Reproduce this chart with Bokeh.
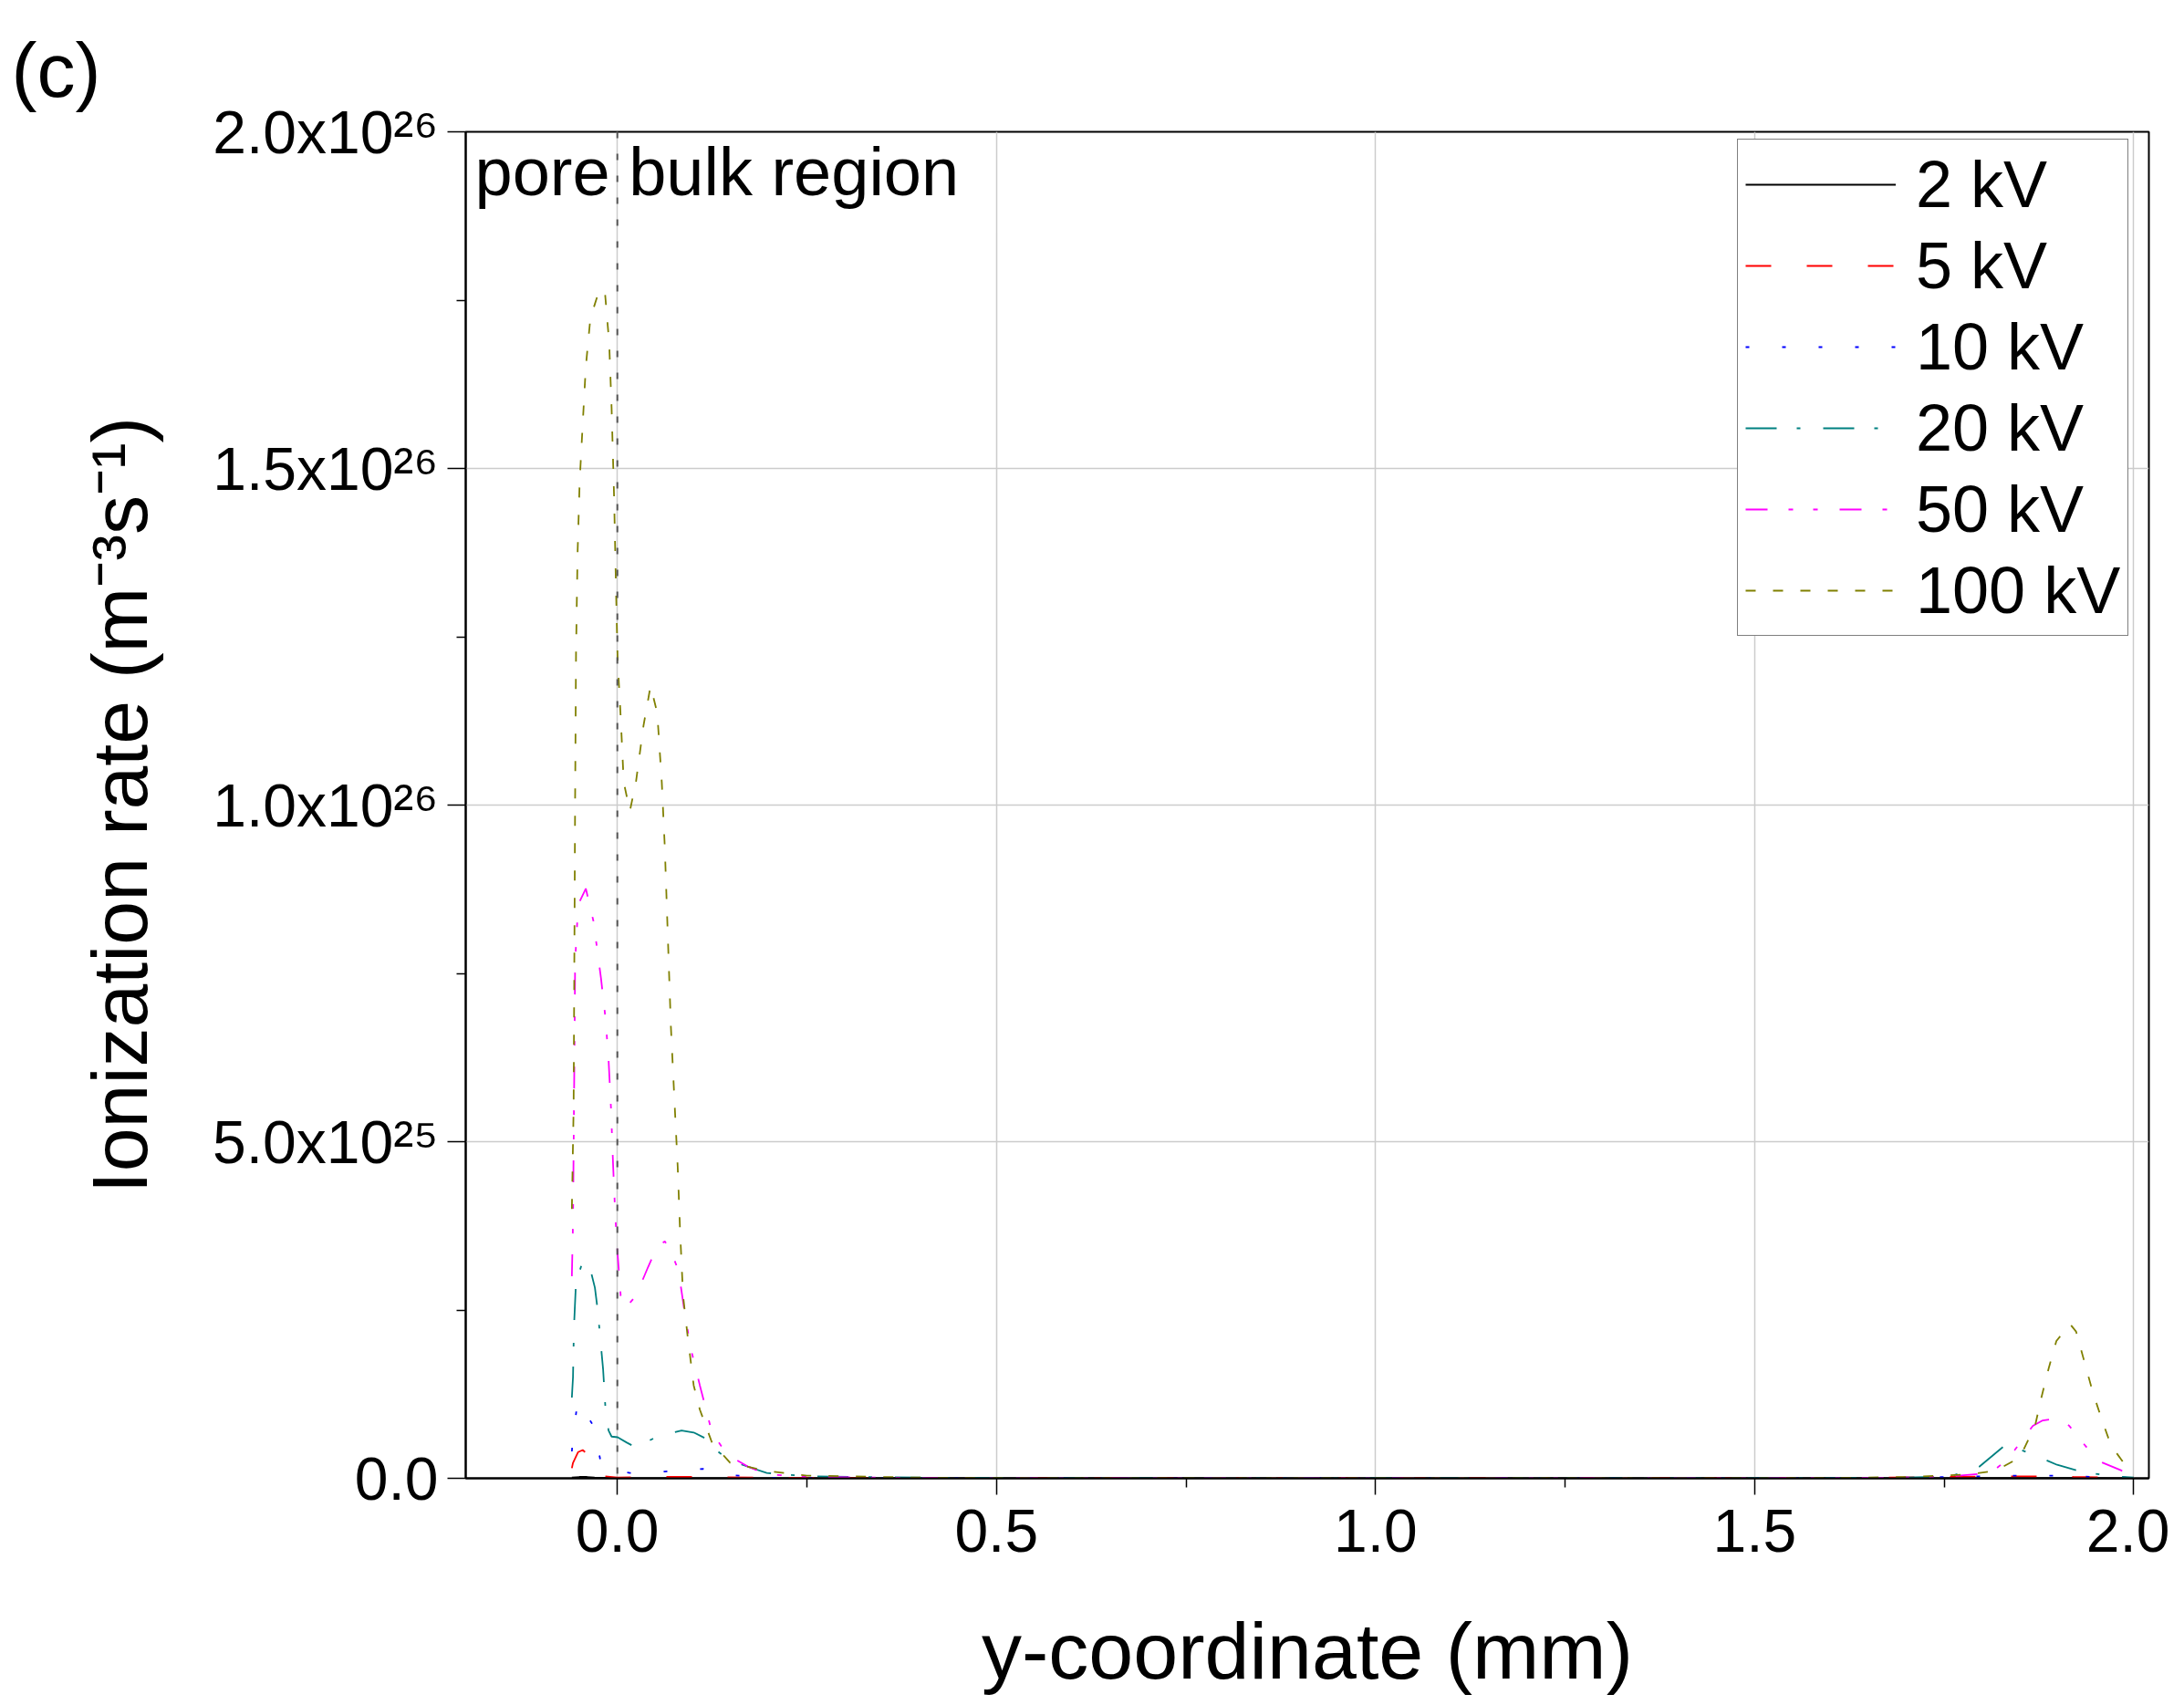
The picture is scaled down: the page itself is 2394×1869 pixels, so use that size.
import numpy as np
from bokeh.plotting import figure
from bokeh.models import (FixedTicker, CustomJSTickFormatter, Span, Label,
                          Legend, LegendItem)
from bokeh.embed import file_html
from bokeh.resources import INLINE

# ---------------- data (y-coordinate in mm, ionization rate in m^-3 s^-1) ----
x_2kV = [-0.0600, -0.0500, -0.0400, -0.0300, 0.000, 0.100, 0.300, 1.00, 1.70, 1.90, 2.00]
r_2kV = [0.001, 0.002, 0.002, 0.001, 0.0005, 0.0003, 0, 0, 0, 0.0005, 0.0003]

x_5kV = [-0.0600, -0.0585, -0.0517, -0.0457, -0.0397, -0.0356, -0.0250, 0.000, 0.050,
         0.100, 0.200, 0.40, 0.80, 1.20, 1.60, 1.75, 1.85, 1.92, 2.00]
r_5kV = [0.015, 0.023, 0.039, 0.042, 0.036, 0.014, 0.004, 0.001, 0.002,
         0.002, 0.001, 0, 0, 0, 0, 0.002, 0.003, 0.002, 0.001]

x_10kV = [-0.0600, -0.0585, -0.0525, -0.0416, -0.0316, -0.0224, -0.0116, 0.0165, 0.0626,
          0.1128, 0.145, 0.197, 0.30, 0.60, 1.00, 1.40, 1.70, 1.80, 1.85, 1.90, 1.95, 2.00]
r_10kV = [0.04, 0.06, 0.114, 0.096, 0.078, 0.027, 0.012, 0.008, 0.010,
          0.014, 0.005, 0.001, 0, 0, 0, 0, 0.001, 0.003, 0.004, 0.004, 0.002, 0.001]

x_20kV = [-0.0600, -0.0585, -0.0573, -0.0549, -0.0517, -0.0457, -0.0377, -0.0296, -0.0256,
          -0.0228, -0.0188, -0.0156, -0.0116, -0.0076, 0.0004, 0.0125, 0.0225, 0.0366,
          0.0526, 0.0847, 0.1007, 0.1168, 0.1248, 0.1449, 0.165, 0.197, 0.25, 0.40, 0.60,
          0.80, 1.00, 1.20, 1.40, 1.60, 1.70, 1.758, 1.796, 1.828, 1.842, 1.868, 1.899,
          1.931, 1.971, 2.000]
r_20kV = [0.12, 0.150, 0.223, 0.283, 0.301, 0.322, 0.320, 0.283, 0.247,
          0.211, 0.162, 0.102, 0.071, 0.062, 0.061, 0.053, 0.047, 0.053,
          0.062, 0.071, 0.068, 0.059, 0.047, 0.029, 0.020, 0.008, 0.003, 0.001, 0,
          0, 0, 0, 0, 0.0005, 0.001, 0.003, 0.017, 0.047, 0.046, 0.035, 0.020,
          0.010, 0.003, 0.001]

x_50kV = [-0.0600, -0.0585, -0.0577, -0.0565, -0.0557, -0.0517, -0.0416, -0.0316, -0.0216,
          -0.0156, -0.0116, -0.0084, -0.0056, -0.0028, 0.0004, 0.0044, 0.0105, 0.0245,
          0.0406, 0.0526, 0.0626, 0.0706, 0.0807, 0.0887, 0.0968, 0.1088, 0.1248, 0.1449,
          0.173, 0.197, 0.25, 0.40, 0.60, 0.80, 1.00, 1.20, 1.40, 1.60, 1.70, 1.76, 1.800,
          1.816, 1.831, 1.843, 1.867, 1.880, 1.899, 1.915, 1.929, 1.953, 1.983, 1.998, 2.000]
r_50kV = [0.30, 0.380, 0.489, 0.646, 0.767, 0.852, 0.876, 0.828, 0.743,
          0.683, 0.622, 0.55, 0.465, 0.392, 0.332, 0.271, 0.253, 0.271,
          0.314, 0.344, 0.352, 0.338, 0.308, 0.247, 0.193, 0.138, 0.068, 0.035,
          0.017, 0.006, 0.002, 0.0005, 0, 0, 0, 0, 0, 0.0005, 0.001, 0.003, 0.007,
          0.012, 0.026, 0.042, 0.078, 0.086, 0.089, 0.078, 0.058, 0.026, 0.012, 0.003, 0.002]

x_100kV = [-0.0600, -0.0577, -0.0557, -0.0545, -0.0525, -0.0497, -0.0457, -0.0416, -0.0356,
           -0.0236, -0.0164, -0.0108, -0.0076, -0.0043, -0.0016, 0.0004, 0.0044, 0.0084,
           0.0165, 0.0245, 0.0345, 0.0438, 0.0526, 0.0586, 0.0626, 0.0666, 0.0706, 0.0758,
           0.0795, 0.0827, 0.0867, 0.0927, 0.1007, 0.1088, 0.1248, 0.1489, 0.197, 0.25,
           0.40, 0.60, 0.80, 1.00, 1.20, 1.40, 1.60, 1.70, 1.75, 1.7817, 1.8178, 1.8498,
           1.8699, 1.878, 1.888, 1.898, 1.916, 1.924, 1.934, 1.946, 1.958, 1.970, 1.986,
           1.998, 2.000]
r_100kV = [0.40, 0.55, 1.009, 1.227, 1.372, 1.481, 1.566, 1.651, 1.723,
           1.766, 1.762, 1.687, 1.590, 1.457, 1.312, 1.215, 1.131, 1.034,
           0.991, 1.034, 1.118, 1.177, 1.137, 1.034, 0.937, 0.804, 0.671, 0.55,
           0.465, 0.368, 0.271, 0.211, 0.138, 0.102, 0.053, 0.023, 0.011, 0.004,
           0.001, 0, 0, 0, 0, 0, 0.0005, 0.002, 0.004, 0.006, 0.011, 0.031,
           0.078, 0.119, 0.164, 0.204, 0.229, 0.218, 0.177, 0.128, 0.087, 0.049, 0.024,
           0.008, 0.005]
RATE_UNIT = 1e26   # the r_* lists are in units of 1e26 m^-3 s^-1

series_labels = ["2 kV", "5 kV", "10 kV", "20 kV", "50 kV", "100 kV"]
series_x = [x_2kV, x_5kV, x_10kV, x_20kV, x_50kV, x_100kV]
series_r = [r_2kV, r_5kV, r_10kV, r_20kV, r_50kV, r_100kV]

x_major_ticks = [0.0, 0.5, 1.0, 1.5, 2.0]
x_minor_ticks = [0.25, 0.75, 1.25, 1.75]
y_major_ticks = [0.0, 0.5e26, 1.0e26, 1.5e26, 2.0e26]
y_minor_ticks = [0.25e26, 0.75e26, 1.25e26, 1.75e26]

# ---------------- styles ----------------
FONT = "Liberation Sans"
colors = ["#000000", "#FF0000", "#0000FF", "#008080", "#FF00FF", "#808000"]
dashes = ["solid", "28 39", "4 36", "34 22 4 25", "24 23 5 22 5 24", "11 19"]

p = figure(width=2378, height=1861, x_range=(-0.2, 2.02), y_range=(0, 2.0e26),
           output_backend="svg", toolbar_location=None,
           min_border_left=510, min_border_right=23, min_border_top=144,
           min_border_bottom=240, background_fill_color="white",
           border_fill_color="white")
p.outline_line_color = "black"
p.outline_line_width = 2

# panel label
p.title.text = "(c)"
p.title.align = "left"
p.title.offset = -498
p.title.standoff = 42
p.title.text_font = FONT
p.title.text_font_size = "84px"
p.title.text_font_style = "normal"
p.title.text_color = "black"

renderers = []
for xs, rs, c, d in zip(series_x, series_r, colors, dashes):
    ys = np.array(rs) * RATE_UNIT
    r = p.line(xs, ys, line_color=c, line_dash=d, line_width=1.8)
    renderers.append(r)

# vertical separator at y = 0 mm
p.add_layout(Span(location=0, dimension="height", line_color="#555555",
                  line_dash="7 17", line_width=2))

# axes
p.xaxis.ticker = FixedTicker(ticks=x_major_ticks, minor_ticks=x_minor_ticks)
p.yaxis.ticker = FixedTicker(ticks=y_major_ticks, minor_ticks=y_minor_ticks)
p.xgrid.ticker = FixedTicker(ticks=x_major_ticks)
p.ygrid.ticker = FixedTicker(ticks=y_major_ticks)
for g in (p.xgrid, p.ygrid):
    g.grid_line_color = "#CCCCCC"
    g.grid_line_width = 1.5

p.xaxis.formatter = CustomJSTickFormatter(code="return tick.toFixed(1);")
p.yaxis.formatter = CustomJSTickFormatter(code="""
const sup = {"0":"\u2070","1":"\u00b9","2":"\u00b2","3":"\u00b3","4":"\u2074",
             "5":"\u2075","6":"\u2076","7":"\u2077","8":"\u2078","9":"\u2079","-":"\u207b"};
if (tick === 0) return "0.0";
const e = Math.floor(Math.log10(Math.abs(tick)) + 1e-9);
const m = tick / Math.pow(10, e);
return m.toFixed(1) + "x10" + String(e).split("").map(c => sup[c]).join("");
""")

for ax in (p.xaxis[0], p.yaxis[0]):
    ax.axis_line_color = "black"
    ax.axis_line_width = 2
    ax.major_tick_line_color = "black"
    ax.minor_tick_line_color = "black"
    ax.major_tick_line_width = 1.5
    ax.minor_tick_line_width = 1.5
    ax.major_tick_in = 0
    ax.minor_tick_in = 0
    ax.minor_tick_out = 10
    ax.major_label_text_font = FONT
    ax.major_label_text_font_size = "66px"
    ax.major_label_text_color = "black"
    ax.axis_label_text_font = FONT
    ax.axis_label_text_font_style = "normal"
    ax.axis_label_text_color = "black"

p.xaxis.major_tick_out = 18
p.yaxis.major_tick_out = 20
p.xaxis.major_label_standoff = 16
p.yaxis.major_label_standoff = 10
p.xaxis.axis_label = "y-coordinate (mm)"
p.yaxis.axis_label = "Ionization rate (m\u207b\u00b3s\u207b\u00b9)"
p.xaxis.axis_label_text_font_size = "88px"
p.yaxis.axis_label_text_font_size = "86px"
p.xaxis.axis_label_standoff = 56
p.yaxis.axis_label_standoff = 51

# legend
items = [LegendItem(label=lab, renderers=[r]) for lab, r in zip(series_labels, renderers)]
legend = Legend(items=items, location=(1394, 923), orientation="vertical",
                glyph_width=165, glyph_height=82, label_height=82,
                label_standoff=22, spacing=7, padding=8, margin=0,
                label_text_font=FONT, label_text_font_size="72px",
                label_text_color="black",
                border_line_color="black", border_line_width=1.5,
                background_fill_color="white", background_fill_alpha=1.0)
p.add_layout(legend, "center")

# annotation
p.add_layout(Label(x=-0.188, y=1.94e26, text="pore bulk region", text_font=FONT,
                   text_font_size="74px", text_baseline="alphabetic",
                   text_color="black"))

open("out.html", "w").write(file_html(p, INLINE))
